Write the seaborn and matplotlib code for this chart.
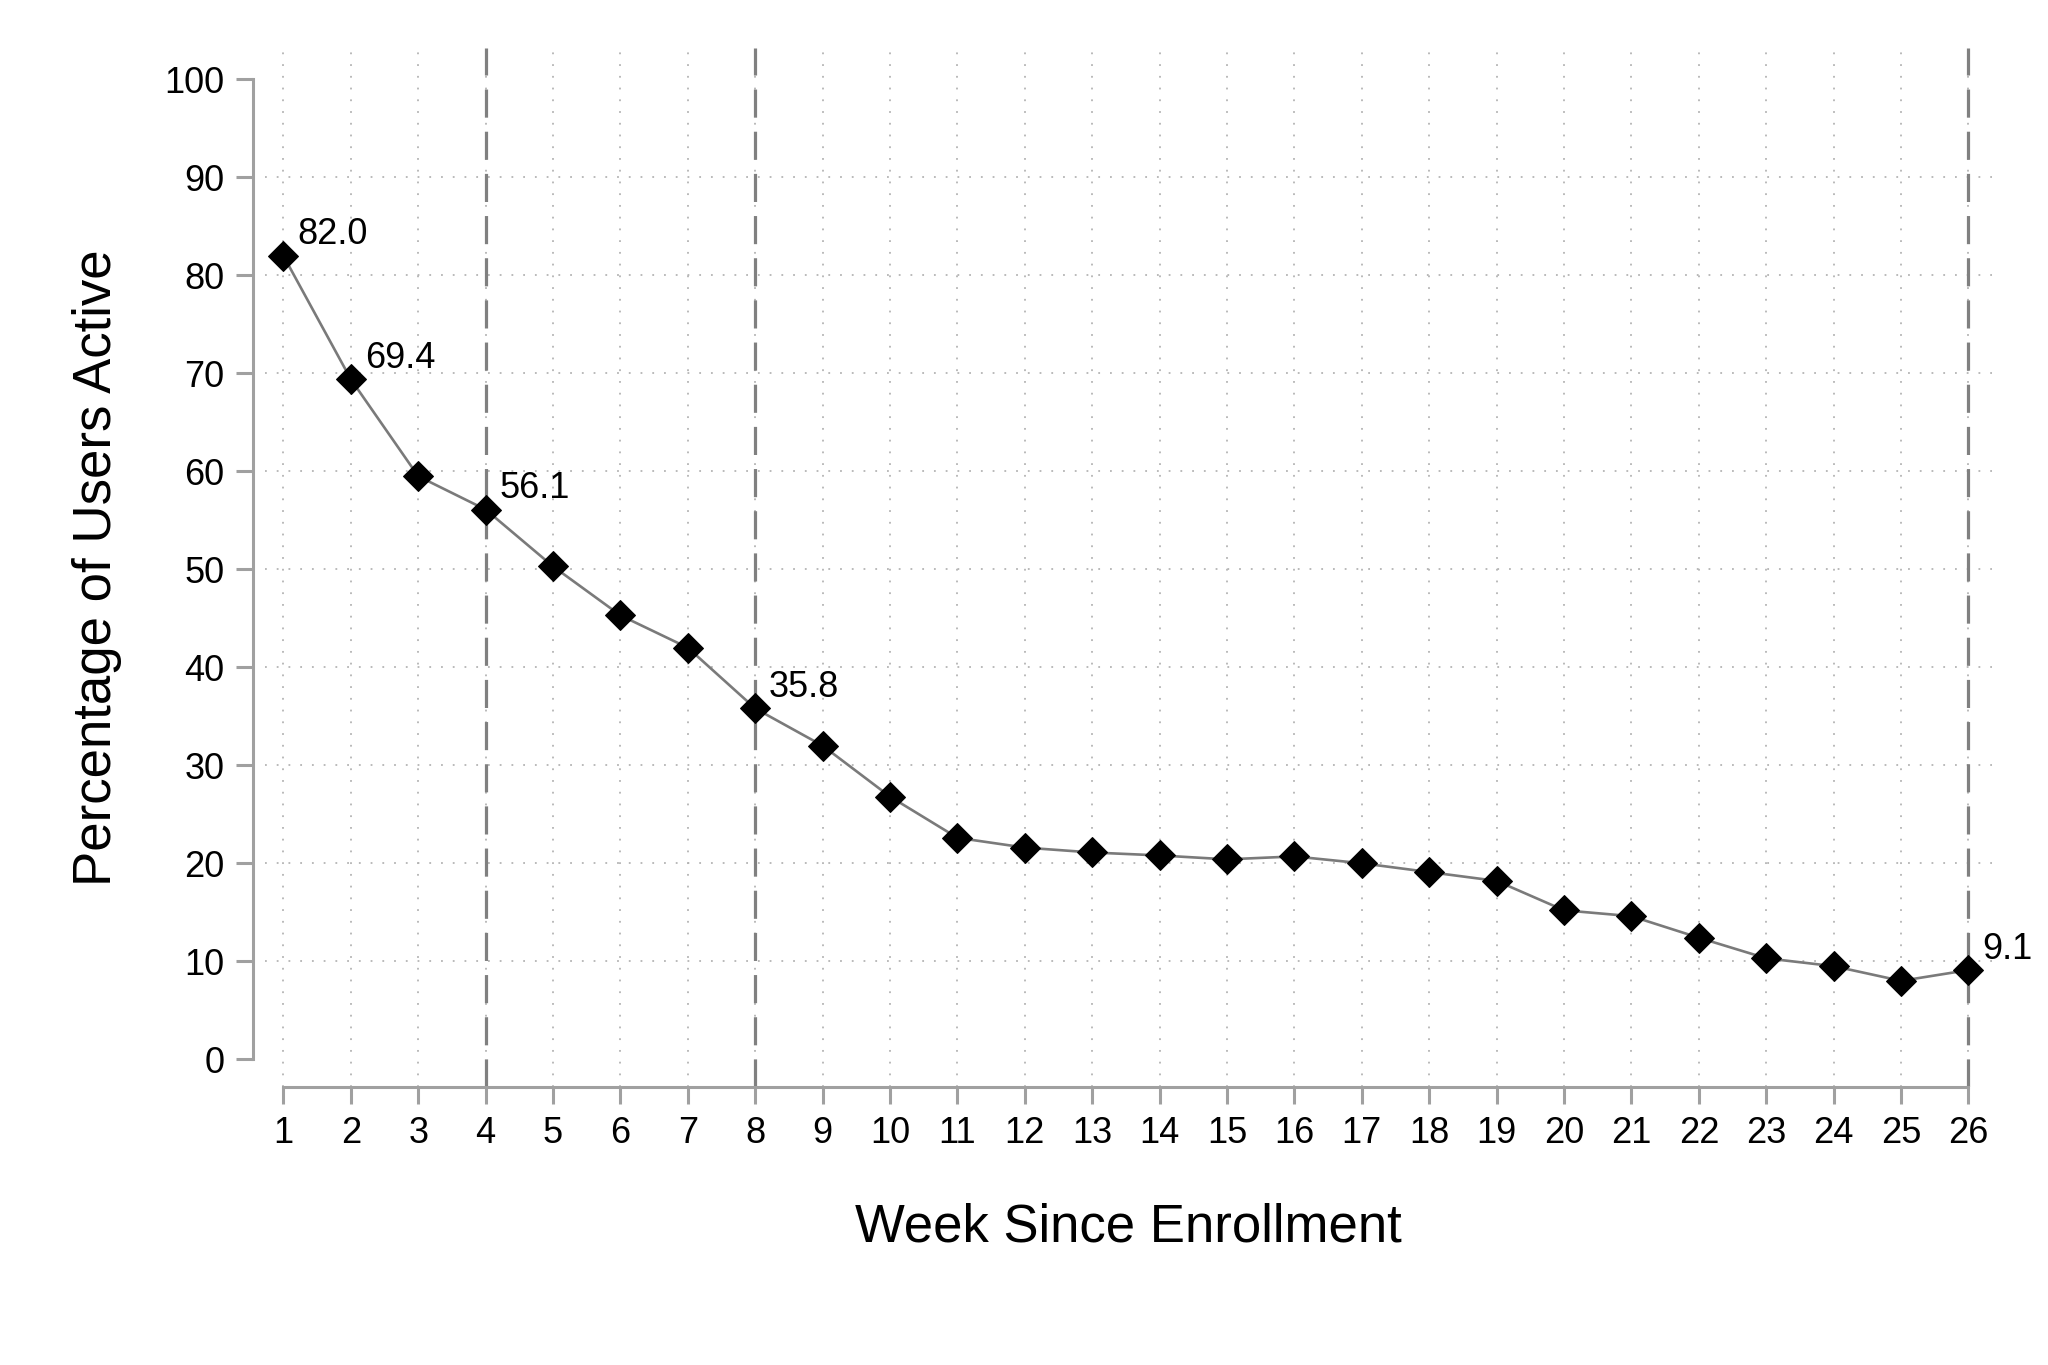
import numpy as np
import pandas as pd
import seaborn as sns
from matplotlib import pyplot as plt

# data
weeks = list(range(1, 27))
pct_active = [82.0, 69.4, 59.5, 56.1, 50.3, 45.3, 42.0, 35.8, 32.0, 26.8,
              22.6, 21.6, 21.1, 20.8, 20.4, 20.7, 20.0, 19.1, 18.2, 15.2,
              14.6, 12.4, 10.3, 9.5, 8.0, 9.1]
labelled_weeks = [1, 2, 4, 8, 26]
marker_weeks = [4, 8, 26]
y_ticks = list(range(0, 101, 10))

df = pd.DataFrame({'week': weeks, 'pct': pct_active})

sns.set_style('white')
plt.rcParams['font.family'] = ['Liberation Sans', 'DejaVu Sans']
plt.rcParams['text.color'] = 'black'
plt.rcParams['axes.labelcolor'] = 'black'

fig = plt.figure(figsize=(20.48, 13.65), dpi=100)
ax = fig.add_axes([0.1294, 0.2039, 0.8433, 0.7609])

# dotted grid (no line at 0 or 100)
grid_kw = dict(color='#b4b4b4', lw=1.3, linestyle=(0, (1, 5.5)), zorder=0)
for y in y_ticks[1:-1]:
    ax.axhline(y, **grid_kw)
for w in weeks:
    ax.axvline(w, **grid_kw)

# vertical dashed reference lines
for w in marker_weeks:
    ax.axvline(w, color='#808080', lw=2.3, linestyle=(0, (8.8, 4.4)), zorder=1)

sns.lineplot(data=df, x='week', y='pct', ax=ax, color='#7a7a7a', lw=1.9,
             marker='D', markersize=15.5, markerfacecolor='black',
             markeredgecolor='black', zorder=3)

for w in labelled_weeks:
    v = df.loc[df['week'] == w, 'pct'].iloc[0]
    ax.annotate(f'{v:.1f}', (w, v), xytext=(10, 15), textcoords='offset points',
                ha='left', va='center', fontsize=26, color='black')

ax.set_xlim(0.727, 26.35)
ax.set_ylim(-2.8, 103.2)
ax.set_xticks(weeks)
ax.set_yticks(y_ticks)

for side in ['top', 'right']:
    ax.spines[side].set_visible(False)
ax.spines['left'].set_bounds(0, 100)
ax.spines['bottom'].set_bounds(1, 26)
ax.spines['left'].set_position(('outward', 8.4))
for side in ['left', 'bottom']:
    ax.spines[side].set_color('#a0a0a0')
    ax.spines[side].set_linewidth(2.2)

ax.tick_params(axis='both', which='major', labelsize=26, color='#a0a0a0',
               width=2.2, length=12, pad=9, labelcolor='black',
               bottom=True, left=True)

ax.set_xlabel('Week Since Enrollment', fontsize=38, va='center', color='black')
ax.set_ylabel('Percentage of Users Active', fontsize=38, va='center', color='black')
ax.xaxis.set_label_coords(0.5, -0.136)
ax.yaxis.set_label_coords(-0.097, 0.5)

fig.savefig('out.png', dpi=100, facecolor='white')
